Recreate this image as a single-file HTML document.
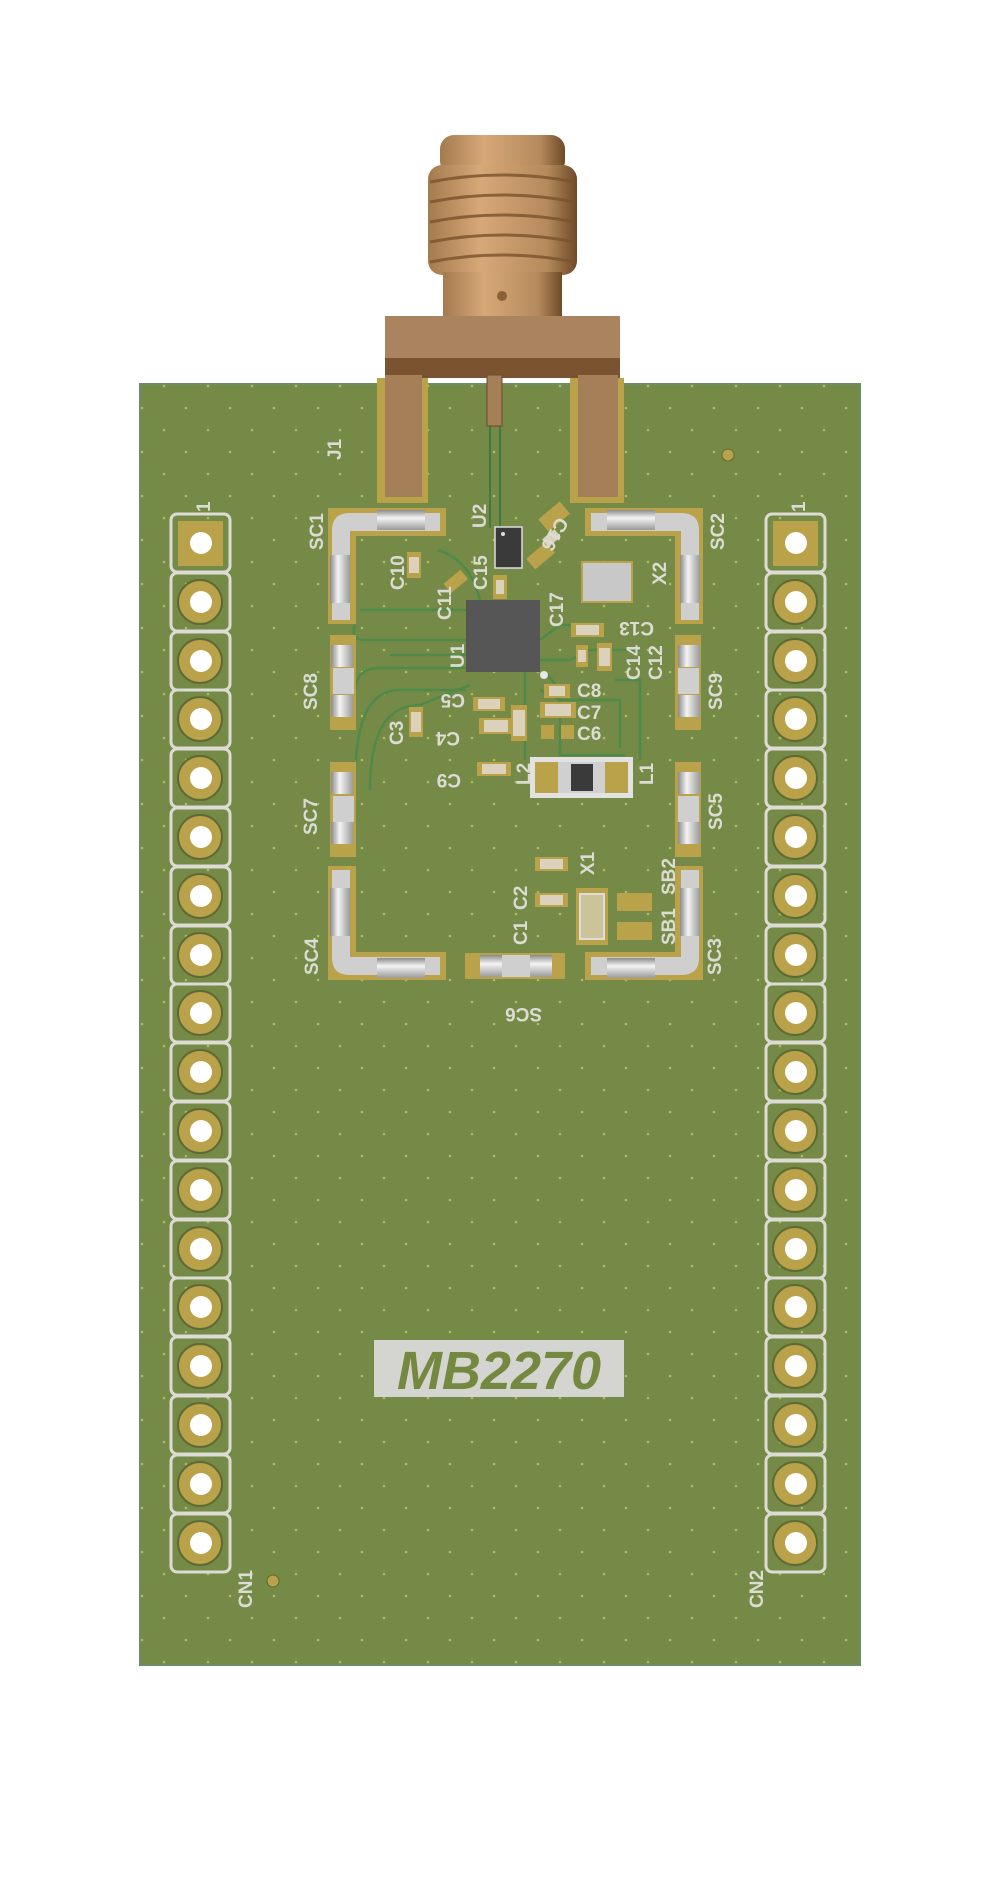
<!DOCTYPE html>
<html><head><meta charset="utf-8"><style>
html,body{margin:0;padding:0;background:#fff;}
svg{display:block}
text{font-family:"Liberation Sans",sans-serif;fill:#dcdcd4;font-weight:bold}
</style></head><body>
<svg width="1000" height="1896" viewBox="0 0 1000 1896" xmlns="http://www.w3.org/2000/svg">
<defs>
<pattern id="dots" x="0" y="0" width="44" height="44" patternUnits="userSpaceOnUse">
<circle cx="10" cy="12" r="1.3" fill="#c9cf6a" opacity="0.7"/>
<circle cx="32" cy="34" r="1.3" fill="#c9cf6a" opacity="0.7"/>
</pattern>
<linearGradient id="thr" x1="0" x2="1" y1="0" y2="0">
<stop offset="0" stop-color="#a47a4e"/><stop offset="0.35" stop-color="#d7a878"/><stop offset="0.8" stop-color="#b58a5c"/><stop offset="1" stop-color="#6e4a28"/>
</linearGradient>
<linearGradient id="sil" x1="0" x2="1" y1="0" y2="0">
<stop offset="0" stop-color="#8a8a8a"/><stop offset="0.4" stop-color="#f4f4f4"/><stop offset="1" stop-color="#9a9a9a"/>
</linearGradient>
<linearGradient id="silv" x1="0" x2="0" y1="0" y2="1">
<stop offset="0" stop-color="#8a8a8a"/><stop offset="0.4" stop-color="#f4f4f4"/><stop offset="1" stop-color="#9a9a9a"/>
</linearGradient>
</defs>

<!-- board -->
<rect x="140" y="384" width="720" height="1281" fill="#748a46" stroke="#6a8f66" stroke-width="2"/>
<rect x="140" y="384" width="720" height="1281" fill="url(#dots)"/>

<!-- SMA connector -->
<rect x="440" y="135" width="125" height="40" rx="14" fill="url(#thr)"/>
<rect x="428" y="165" width="149" height="110" rx="14" fill="url(#thr)"/>
<g stroke="#7a532d" stroke-width="3" fill="none" opacity="0.8">
<path d="M430 182 Q502 168 575 182"/><path d="M430 202 Q502 188 575 202"/><path d="M430 222 Q502 208 575 222"/><path d="M430 242 Q502 228 575 242"/><path d="M430 262 Q502 248 575 262"/>
</g>
<rect x="443" y="272" width="119" height="48" fill="url(#thr)"/>
<circle cx="502" cy="296" r="5" fill="#8a6038"/>
<rect x="385" y="316" width="235" height="44" fill="#a9845e"/>
<rect x="385" y="358" width="235" height="20" fill="#7a5430"/>
<rect x="377" y="378" width="51" height="125" fill="#b9a24a"/>
<rect x="570" y="378" width="54" height="125" fill="#b9a24a"/>
<rect x="385" y="375" width="37" height="122" fill="#a57f58"/>
<rect x="578" y="375" width="40" height="122" fill="#a57f58"/>
<line x1="490" y1="426" x2="490" y2="528" stroke="#3f7a45" stroke-width="2"/>
<line x1="500" y1="426" x2="500" y2="528" stroke="#3f7a45" stroke-width="2"/>
<rect x="487" y="375" width="15" height="51" fill="#a57f58" stroke="#6e4a28"/>

<!-- headers -->
<g fill="none" stroke="#dcdcd4" stroke-width="3">
<rect x="171" y="514" width="59" height="58" rx="6"/><rect x="171" y="573" width="59" height="58" rx="6"/><rect x="171" y="632" width="59" height="58" rx="6"/><rect x="171" y="690" width="59" height="58" rx="6"/><rect x="171" y="749" width="59" height="58" rx="6"/><rect x="171" y="808" width="59" height="58" rx="6"/><rect x="171" y="867" width="59" height="58" rx="6"/><rect x="171" y="926" width="59" height="58" rx="6"/><rect x="171" y="984" width="59" height="58" rx="6"/><rect x="171" y="1043" width="59" height="58" rx="6"/><rect x="171" y="1102" width="59" height="58" rx="6"/><rect x="171" y="1161" width="59" height="58" rx="6"/><rect x="171" y="1220" width="59" height="58" rx="6"/><rect x="171" y="1278" width="59" height="58" rx="6"/><rect x="171" y="1337" width="59" height="58" rx="6"/><rect x="171" y="1396" width="59" height="58" rx="6"/><rect x="171" y="1455" width="59" height="58" rx="6"/><rect x="171" y="1514" width="59" height="58" rx="6"/>
</g>
<g fill="none" stroke="#dcdcd4" stroke-width="3" transform="translate(595,0)">
<rect x="171" y="514" width="59" height="58" rx="6"/><rect x="171" y="573" width="59" height="58" rx="6"/><rect x="171" y="632" width="59" height="58" rx="6"/><rect x="171" y="690" width="59" height="58" rx="6"/><rect x="171" y="749" width="59" height="58" rx="6"/><rect x="171" y="808" width="59" height="58" rx="6"/><rect x="171" y="867" width="59" height="58" rx="6"/><rect x="171" y="926" width="59" height="58" rx="6"/><rect x="171" y="984" width="59" height="58" rx="6"/><rect x="171" y="1043" width="59" height="58" rx="6"/><rect x="171" y="1102" width="59" height="58" rx="6"/><rect x="171" y="1161" width="59" height="58" rx="6"/><rect x="171" y="1220" width="59" height="58" rx="6"/><rect x="171" y="1278" width="59" height="58" rx="6"/><rect x="171" y="1337" width="59" height="58" rx="6"/><rect x="171" y="1396" width="59" height="58" rx="6"/><rect x="171" y="1455" width="59" height="58" rx="6"/><rect x="171" y="1514" width="59" height="58" rx="6"/>
</g>
<g fill="#b9a24a" stroke="#5d6a34" stroke-width="2">
<circle cx="200" cy="602" r="22"/><circle cx="200" cy="661" r="22"/><circle cx="200" cy="719" r="22"/><circle cx="200" cy="778" r="22"/><circle cx="200" cy="837" r="22"/><circle cx="200" cy="896" r="22"/><circle cx="200" cy="955" r="22"/><circle cx="200" cy="1013" r="22"/><circle cx="200" cy="1072" r="22"/><circle cx="200" cy="1131" r="22"/><circle cx="200" cy="1190" r="22"/><circle cx="200" cy="1249" r="22"/><circle cx="200" cy="1307" r="22"/><circle cx="200" cy="1366" r="22"/><circle cx="200" cy="1425" r="22"/><circle cx="200" cy="1484" r="22"/><circle cx="200" cy="1543" r="22"/>
<circle cx="795" cy="602" r="22"/><circle cx="795" cy="661" r="22"/><circle cx="795" cy="719" r="22"/><circle cx="795" cy="778" r="22"/><circle cx="795" cy="837" r="22"/><circle cx="795" cy="896" r="22"/><circle cx="795" cy="955" r="22"/><circle cx="795" cy="1013" r="22"/><circle cx="795" cy="1072" r="22"/><circle cx="795" cy="1131" r="22"/><circle cx="795" cy="1190" r="22"/><circle cx="795" cy="1249" r="22"/><circle cx="795" cy="1307" r="22"/><circle cx="795" cy="1366" r="22"/><circle cx="795" cy="1425" r="22"/><circle cx="795" cy="1484" r="22"/><circle cx="795" cy="1543" r="22"/>
</g>
<rect x="178" y="521" width="45" height="45" fill="#b9a24a"/>
<rect x="773" y="521" width="45" height="45" fill="#b9a24a"/>
<g fill="#fff">
<circle cx="201" cy="543" r="11"/><circle cx="201" cy="602" r="11"/><circle cx="201" cy="661" r="11"/><circle cx="201" cy="719" r="11"/><circle cx="201" cy="778" r="11"/><circle cx="201" cy="837" r="11"/><circle cx="201" cy="896" r="11"/><circle cx="201" cy="955" r="11"/><circle cx="201" cy="1013" r="11"/><circle cx="201" cy="1072" r="11"/><circle cx="201" cy="1131" r="11"/><circle cx="201" cy="1190" r="11"/><circle cx="201" cy="1249" r="11"/><circle cx="201" cy="1307" r="11"/><circle cx="201" cy="1366" r="11"/><circle cx="201" cy="1425" r="11"/><circle cx="201" cy="1484" r="11"/><circle cx="201" cy="1543" r="11"/>
<circle cx="796" cy="543" r="11"/><circle cx="796" cy="602" r="11"/><circle cx="796" cy="661" r="11"/><circle cx="796" cy="719" r="11"/><circle cx="796" cy="778" r="11"/><circle cx="796" cy="837" r="11"/><circle cx="796" cy="896" r="11"/><circle cx="796" cy="955" r="11"/><circle cx="796" cy="1013" r="11"/><circle cx="796" cy="1072" r="11"/><circle cx="796" cy="1131" r="11"/><circle cx="796" cy="1190" r="11"/><circle cx="796" cy="1249" r="11"/><circle cx="796" cy="1307" r="11"/><circle cx="796" cy="1366" r="11"/><circle cx="796" cy="1425" r="11"/><circle cx="796" cy="1484" r="11"/><circle cx="796" cy="1543" r="11"/>
</g>
<circle cx="728" cy="455" r="6" fill="#b9a24a" stroke="#5d6a34"/>
<circle cx="273" cy="1581" r="6" fill="#b9a24a" stroke="#5d6a34"/>

<!-- traces -->
<g stroke="#4f8a4a" stroke-width="2.5" fill="none">
<path d="M360 610 H466"/><path d="M355 625 Q350 640 365 640 H466"/><path d="M390 655 H466"/>
<path d="M355 700 Q352 668 380 668 H466"/><path d="M356 760 Q360 690 400 690 H466"/>
<path d="M370 790 Q370 705 420 705 L470 685"/><path d="M438 550 Q470 560 480 600"/>
<path d="M540 690 L560 700 H620 V748"/><path d="M540 660 H570 L590 650 H640"/><path d="M540 640 L560 625 H600"/>
<path d="M525 672 V760"/><path d="M545 672 L560 690 V755 H625"/><path d="M615 680 H640 V760"/>
</g>

<!-- shield frame -->
<g fill="#b9a24a">
<rect x="328" y="508" width="28" height="116"/><rect x="328" y="508" width="118" height="28"/>
<rect x="585" y="508" width="118" height="28"/><rect x="675" y="508" width="28" height="116"/>
<rect x="328" y="866" width="28" height="114"/><rect x="328" y="952" width="118" height="28"/>
<rect x="585" y="952" width="118" height="28"/><rect x="675" y="866" width="28" height="114"/>
<rect x="330" y="635" width="26" height="95"/><rect x="330" y="762" width="26" height="95"/>
<rect x="675" y="635" width="26" height="95"/><rect x="675" y="762" width="26" height="95"/>
<rect x="465" y="953" width="100" height="26"/>
</g>
<g fill="#cfcfcf">
<path d="M332 620 V530 Q332 513 350 513 H440 V531 H350 V620Z"/>
<path d="M699 620 V530 Q699 513 681 513 H591 V531 H681 V620Z"/>
<path d="M332 870 V958 Q332 975 350 975 H440 V957 H350 V870Z"/>
<path d="M699 870 V958 Q699 975 681 975 H591 V957 H681 V870Z"/>
<rect x="333" y="668" width="21" height="26"/><rect x="333" y="796" width="21" height="26"/>
<rect x="678" y="668" width="21" height="26"/><rect x="678" y="796" width="21" height="26"/>
<rect x="502" y="955" width="28" height="22"/>
</g>
<g fill="url(#sil)">
<rect x="330" y="555" width="20" height="48"/><rect x="680" y="555" width="20" height="48"/>
<rect x="330" y="888" width="20" height="48"/><rect x="680" y="888" width="20" height="48"/>
<rect x="331" y="645" width="22" height="22"/><rect x="331" y="695" width="22" height="22"/>
<rect x="331" y="772" width="22" height="22"/><rect x="331" y="822" width="22" height="22"/>
<rect x="678" y="645" width="22" height="22"/><rect x="678" y="695" width="22" height="22"/>
<rect x="678" y="772" width="22" height="22"/><rect x="678" y="822" width="22" height="22"/>
</g>
<g fill="url(#silv)">
<rect x="377" y="510" width="48" height="20"/><rect x="607" y="510" width="48" height="20"/>
<rect x="377" y="958" width="48" height="20"/><rect x="607" y="958" width="48" height="20"/>
<rect x="480" y="955" width="22" height="22"/><rect x="530" y="955" width="22" height="22"/>
</g>

<!-- ICs -->
<rect x="466" y="600" width="74" height="72" fill="#565656"/>
<rect x="495" y="527" width="27" height="41" fill="#3a3a3a" stroke="#ddd" stroke-width="1.5"/>
<circle cx="503" cy="534" r="2" fill="#ddd"/>
<circle cx="544" cy="675" r="4" fill="#e8e8e8"/>
<rect x="582" y="562" width="50" height="40" fill="#c8c8c8" stroke="#b9a24a" stroke-width="2"/>
<rect x="530" y="757" width="103" height="41" fill="#e2e2e2"/>
<rect x="535" y="762" width="93" height="31" fill="#b9a24a"/>
<rect x="558" y="762" width="47" height="31" fill="#d0d0d0"/>
<rect x="571" y="764" width="22" height="27" fill="#3a3a3a"/>
<rect x="576" y="888" width="32" height="57" fill="#b9a24a"/>
<rect x="580" y="894" width="24" height="45" fill="#cbc49a" stroke="#ddd" stroke-width="2"/>
<rect x="617" y="893" width="35" height="18" fill="#b9a24a"/>
<rect x="617" y="922" width="35" height="18" fill="#b9a24a"/>

<!-- small caps -->
<g fill="#b9a24a">
<rect x="407" y="552" width="14" height="26"/><rect x="409" y="707" width="14" height="30"/>
<rect x="477" y="762" width="34" height="14"/><rect x="473" y="697" width="32" height="14"/>
<rect x="479" y="718" width="34" height="16"/><rect x="511" y="705" width="16" height="36"/>
<rect x="544" y="684" width="26" height="14"/><rect x="540" y="702" width="36" height="16"/>
<rect x="541" y="725" width="13" height="14"/><rect x="561" y="725" width="13" height="14"/>
<rect x="571" y="623" width="33" height="14"/><rect x="576" y="645" width="12" height="22"/>
<rect x="597" y="643" width="15" height="28"/><rect x="535" y="857" width="33" height="14"/>
<rect x="535" y="893" width="33" height="14"/><rect x="493" y="575" width="14" height="24"/>
</g>
<g fill="#dcd2bc">
<rect x="409" y="557" width="10" height="16"/><rect x="411" y="712" width="10" height="20"/>
<rect x="482" y="764" width="24" height="10"/><rect x="478" y="699" width="22" height="10"/>
<rect x="484" y="720" width="24" height="12"/><rect x="513" y="710" width="12" height="26"/>
<rect x="549" y="686" width="16" height="10"/><rect x="545" y="704" width="26" height="12"/>
<rect x="576" y="625" width="23" height="10"/><rect x="578" y="650" width="8" height="12"/>
<rect x="599" y="648" width="11" height="18"/><rect x="540" y="859" width="23" height="10"/>
<rect x="540" y="895" width="23" height="10"/><rect x="496" y="580" width="8" height="14"/>
</g>
<g transform="rotate(-40 455 582)" fill="#b9a24a"><rect x="445" y="576" width="22" height="12"/></g>
<g transform="rotate(-40 540 555)" fill="#b9a24a"><rect x="527" y="549" width="26" height="14"/></g>
<g transform="rotate(-40 550 538)" fill="#dcd2bc"><rect x="543" y="534" width="16" height="10"/></g>
<g transform="rotate(-40 552 517)" fill="#b9a24a"><rect x="540" y="510" width="28" height="16"/></g>

<!-- labels -->
<g font-size="19">
<text transform="translate(341,460) rotate(-90)">J1</text>
<text transform="translate(486,528) rotate(-90)">U2</text>
<text transform="translate(323,550) rotate(-90)">SC1</text>
<text transform="translate(724,550) rotate(-90)">SC2</text>
<text transform="translate(317,710) rotate(-90)">SC8</text>
<text transform="translate(722,710) rotate(-90)">SC9</text>
<text transform="translate(317,835) rotate(-90)">SC7</text>
<text transform="translate(722,830) rotate(-90)">SC5</text>
<text transform="translate(318,975) rotate(-90)">SC4</text>
<text transform="translate(721,975) rotate(-90)">SC3</text>
<text transform="translate(542,1008) rotate(180)">SC6</text>
<text transform="translate(404,590) rotate(-90)">C10</text>
<text transform="translate(487,590) rotate(-90)">C15</text>
<text transform="translate(563,627) rotate(-90)">C17</text>
<text transform="translate(464,668) rotate(-90)">U1</text>
<text transform="translate(403,745) rotate(-90)">C3</text>
<text transform="translate(451,620) rotate(-90)">C11</text>
<text transform="translate(666,585) rotate(-90)">X2</text>
<text transform="translate(594,875) rotate(-90)">X1</text>
<text transform="translate(527,910) rotate(-90)">C2</text>
<text transform="translate(527,945) rotate(-90)">C1</text>
<text transform="translate(530,785) rotate(-90)">L2</text>
<text transform="translate(653,785) rotate(-90)">L1</text>
<text transform="translate(675,895) rotate(-90)">SB2</text>
<text transform="translate(675,945) rotate(-90)">SB1</text>
<text transform="translate(640,680) rotate(-90)">C14</text>
<text transform="translate(662,680) rotate(-90)">C12</text>
<text transform="translate(654,622) rotate(180)">C13</text>
<text transform="translate(465,694) rotate(180)">C5</text>
<text transform="translate(460,732) rotate(180)">C4</text>
<text transform="translate(461,774) rotate(180)">C9</text>
<text x="577" y="697">C8</text><text x="577" y="719">C7</text><text x="577" y="740">C6</text>
<text transform="translate(558,516) rotate(120)">C16</text>
<text transform="translate(210,512) rotate(-90)">1</text>
<text transform="translate(805,512) rotate(-90)">1</text>
<text transform="translate(252,1608) rotate(-90)">CN1</text>
<text transform="translate(763,1608) rotate(-90)">CN2</text>
</g>

<!-- MB2270 -->
<rect x="374" y="1340" width="250" height="57" fill="#d4d4d0"/>
<text x="499" y="1389" text-anchor="middle" font-size="54" font-style="italic" style="fill:#74883f;font-weight:bold">MB2270</text>
</svg>
</body></html>
